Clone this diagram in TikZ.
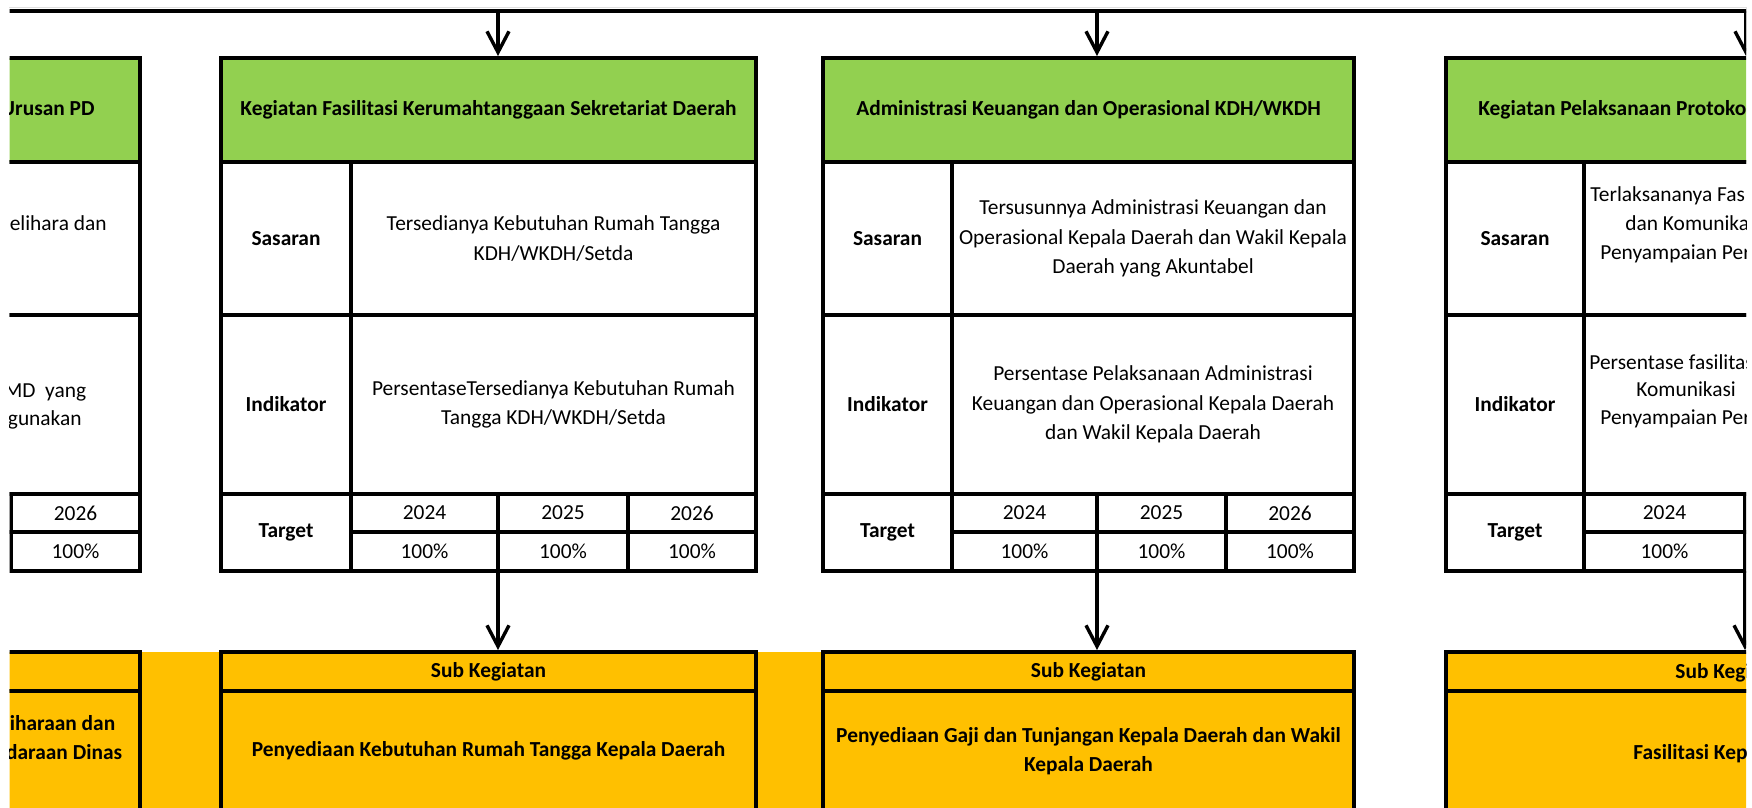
\documentclass[tikz,border=0pt]{standalone}
\usepackage{fontspec}
\setmainfont{Carlito}
\usepackage{tikz}
\usetikzlibrary{arrows.meta}
\definecolor{hijau}{HTML}{92D050}
\definecolor{oranye}{HTML}{FFC000}
\newcommand{\isi}{\fontsize{10.7pt}{14.75pt}\selectfont}
\tikzset{
  cell/.style 2 args={draw, line width=1.65pt, inner sep=0pt, outer sep=0pt, anchor=north west,
    align=center, minimum width=#1*0.5pt, minimum height=#2*0.5pt},
  hdrcell/.style={fill=hijau, font=\isi\bfseries},
  subcell/.style={fill=oranye, font=\isi\bfseries},
  lbl/.style={font=\isi\bfseries},
  potong/.style={inner sep=0pt, anchor=base west},
  potongk/.style={inner sep=0pt, anchor=base east},
  panah/.style={line width=1.7pt, shorten >=1pt, -{Straight Barb[length=10.5pt,width=11pt]}},
}

\begin{document}
\begin{tikzpicture}[x=0.5pt, y=-0.5pt, every node/.append style={font=\isi}]
\useasboundingbox (0,0) rectangle (1752,808);
\draw[gray!25, line width=0.4pt] (9,7.5) -- (1746,7.5) -- (1746,55);
\begin{scope}
\clip (9.5,0) rectangle (1746,808);
\coordinate (garisL) at (0,11);
\coordinate (garisR) at (1760,11);
\coordinate (atasB) at (498,11);
\coordinate (atasC) at (1097,11);
\coordinate (atasD) at (1746,11);
\draw[line width=2pt] (garisL) -- (garisR);

\fill[oranye] (140,652) rectangle (221,815);
\fill[oranye] (756,652) rectangle (823,815);

\node (hdrA) at (-200,58) [cell={340}{104}, hdrcell] {};
\node (sasA) at (-200,162) [cell={340}{153}] {};
\node (indA) at (-200,315) [cell={340}{179}] {};
\node (thnA) at (11,494) [cell={129}{38}] {2026};
\node (pctA) at (11,532) [cell={129}{39}] {100\%};
\node (subhA) at (-200,652) [cell={340}{39}, subcell] {};
\node (subA) at (-200,691) [cell={340}{120}, subcell] {};
\node (tA1) at (95,116) [potongk, lbl] {Urusan PD};
\node (tA2) at (107,230) [potongk] {elihara dan};
\node (tA3) at (86.5,397) [potongk] {MD\ \ yang};
\node (tA4) at (82,425) [potongk] {gunakan};
\node (tA5) at (115.6,730) [potongk, lbl] {iharaan dan};
\node (tA6) at (122.5,759) [potongk, lbl] {daraan Dinas};

\node (hdrB) at (221,58) [cell={535}{104}, hdrcell] {Kegiatan Fasilitasi Kerumahtanggaan Sekretariat Daerah};
\node (sasLB) at (221,162) [cell={130}{153}, lbl] {Sasaran};
\node (sasB) at (351,162) [cell={405}{153}] {Tersedianya Kebutuhan Rumah Tangga\\KDH/WKDH/Setda};
\node (indLB) at (221,315) [cell={130}{179}, lbl] {Indikator};
\node (indB) at (351,315) [cell={405}{179}] {PersentaseTersedianya Kebutuhan Rumah\\Tangga KDH/WKDH/Setda};
\node (tgtB) at (221,494) [cell={130}{77}, lbl] {Target};
\node (thnB1) at (351,494) [cell={147}{38}] {2024};
\node (thnB2) at (498,494) [cell={130}{38}] {2025};
\node (thnB3) at (628,494) [cell={128}{38}] {2026};
\node (pctB1) at (351,532) [cell={147}{39}] {100\%};
\node (pctB2) at (498,532) [cell={130}{39}] {100\%};
\node (pctB3) at (628,532) [cell={128}{39}] {100\%};
\node (subhB) at (221,652) [cell={535}{39}, subcell] {Sub Kegiatan};
\node (subB) at (221,691) [cell={535}{120}, subcell] {Penyediaan Kebutuhan Rumah Tangga Kepala Daerah};

\node (hdrC) at (823,58) [cell={531}{104}, hdrcell] {Administrasi Keuangan dan Operasional KDH/WKDH};
\node (sasLC) at (823,162) [cell={129}{153}, lbl] {Sasaran};
\node (sasC) at (952,162) [cell={402}{153}] {Tersusunnya Administrasi Keuangan dan\\Operasional Kepala Daerah dan Wakil Kepala\\Daerah yang Akuntabel};
\node (indLC) at (823,315) [cell={129}{179}, lbl] {Indikator};
\node (indC) at (952,315) [cell={402}{179}] {Persentase Pelaksanaan Administrasi\\Keuangan dan Operasional Kepala Daerah\\dan Wakil Kepala Daerah};
\node (tgtC) at (823,494) [cell={129}{77}, lbl] {Target};
\node (thnC1) at (952,494) [cell={145}{38}] {2024};
\node (thnC2) at (1097,494) [cell={129}{38}] {2025};
\node (thnC3) at (1226,494) [cell={128}{38}] {2026};
\node (pctC1) at (952,532) [cell={145}{39}] {100\%};
\node (pctC2) at (1097,532) [cell={129}{39}] {100\%};
\node (pctC3) at (1226,532) [cell={128}{39}] {100\%};
\node (subhC) at (823,652) [cell={531}{39}, subcell] {Sub Kegiatan};
\node (subC) at (823,691) [cell={531}{120}, subcell] {Penyediaan Gaji dan Tunjangan Kepala Daerah dan Wakil\\Kepala Daerah};

\node (hdrD) at (1446,58) [cell={400}{104}, hdrcell] {};
\node (sasLD) at (1446,162) [cell={138}{153}, lbl] {Sasaran};
\node (sasD) at (1584,162) [cell={400}{153}] {};
\node (indLD) at (1446,315) [cell={138}{179}, lbl] {Indikator};
\node (indD) at (1584,315) [cell={400}{179}] {};
\node (tgtD) at (1446,494) [cell={138}{77}, lbl] {Target};
\node (thnD1) at (1584,494) [cell={161}{38}] {2024};
\node (pctD1) at (1584,532) [cell={161}{39}] {100\%};
\node (subhD) at (1446,652) [cell={400}{39}, subcell] {};
\node (subD) at (1446,691) [cell={400}{120}, subcell] {};
\node (tD1) at (1478,116) [potong, lbl] {Kegiatan Pelaksanaan Protokol};
\node (tD2) at (1590,201) [potong] {Terlaksananya Fas};
\node (tD3) at (1625,230) [potong] {dan Komunika};
\node (tD4) at (1600,259) [potong] {Penyampaian Per};
\node (tD5) at (1589,369) [potong] {Persentase fasilitas};
\node (tD6) at (1636,396) [potong] {Komunikasi};
\node (tD7) at (1600,424) [potong] {Penyampaian Per};
\node (tD8) at (1675,678) [potong, lbl] {Sub Kegiatan};
\node (tD9) at (1633,759) [potong, lbl] {Fasilitasi Kep};

\draw[panah] (atasB) -- (atasB |- hdrB.north);
\draw[panah] (atasC) -- (atasC |- hdrC.north);
\draw[panah] (atasD) -- (atasD |- hdrD.north);
\draw[panah] (pctB2.south west) -- (pctB2.south west |- subhB.north);
\draw[panah] (pctC2.south west) -- (pctC2.south west |- subhC.north);
\draw[panah] (pctD1.south east) -- (pctD1.south east |- subhD.north);
\end{scope}
\end{tikzpicture}
\end{document}
